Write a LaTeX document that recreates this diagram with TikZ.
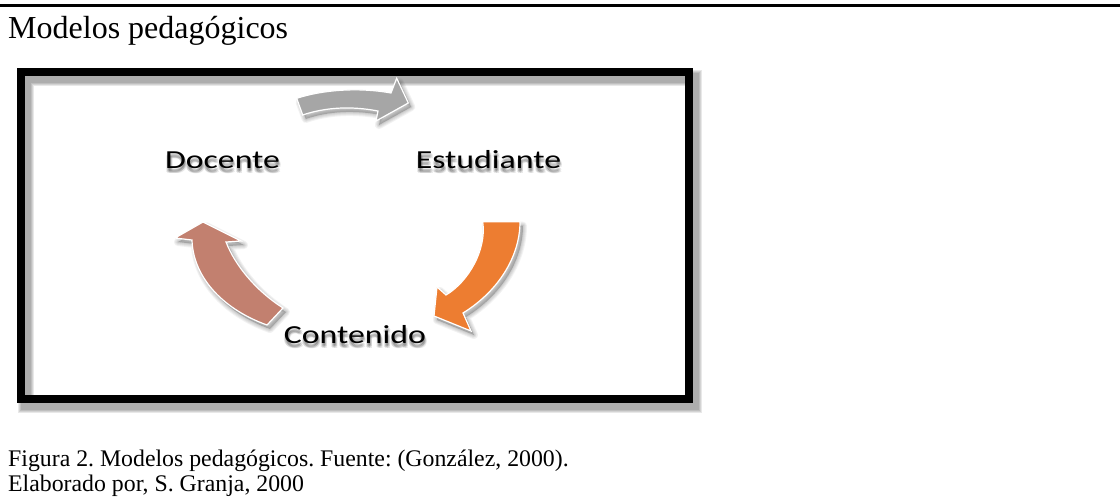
\documentclass[tikz,border=0pt]{standalone}
\usepackage{fontspec}
\setmainfont{Liberation Serif}
\newfontfamily\diagfont{Carlito}
\frenchspacing
\definecolor{arrgray}{HTML}{A6A6A6}
\definecolor{arrorange}{HTML}{ED7D31}
\definecolor{arrbrown}{HTML}{C2806F}
\def\pathGray{(296.7,98.3) .. controls (322,90) and (358,87) .. (391,93) -- (396.7,78.3) -- (408.3,103) -- (376,121) -- (378,111) .. controls (352,106) and (326,107) .. (302.7,115) -- cycle}
\def\pathOrange{(482.7,221.7) -- (520,221.7) .. controls (520,255) and (500,290) .. (463,313) -- (471,331) -- (434,316) -- (437,287) -- (446,295) .. controls (468,282) and (487,250) .. (482.7,221.7) -- cycle}
\def\pathBrown{(267,325) .. controls (220,308) and (193,275) .. (192,240) -- (175,238) -- (203,222) -- (241,241) -- (226,242) .. controls (235,265) and (255,290) .. (283,308) -- cycle}
\tikzset{
  diagtext/.style={anchor=base, inner sep=0, font=\diagfont\fontsize{26}{30}\selectfont, text=black},
  shadowtext/.style={diagtext, text=black, text opacity=0.09},
  captext/.style={anchor=base west, inner sep=0, font=\fontsize{23.8}{26}\selectfont},
  arrowshape/.style={draw=white, line width=1.2pt, line join=miter},
  shadowlayer/.style={fill=black, draw=black, fill opacity=0.05, draw opacity=0.05, line join=round}
}
\newcommand{\diagword}[3]{%
  \foreach \dx/\dy in {0/3,1/4,2/5,-1/4,1/2,2/3,0/5}{
    \node[shadowtext] at (#1+\dx,#2+\dy) {\scalebox{1.3}[1]{#3}};
  }
}
\begin{document}
\begin{tikzpicture}[x=1pt,y=-1pt]
\useasboundingbox (0,0) rectangle (1120,498);
\fill[white] (0,0) rectangle (1120,498);
% top rule
\coordinate (ruleL) at (0,5.5);
\coordinate (ruleR) at (1120,5.5);
\draw[line width=3pt] (ruleL) -- (ruleR);
% title
\node[anchor=base west, inner sep=0, font=\fontsize{32}{36}\selectfont] (title) at (8,38) {Modelos pedagógicos};
% frame shadow
\foreach \w in {16,14,12,10}{
  \draw[black, opacity=0.09, line width=\w pt, line join=miter] (26,77.5) rectangle (693.6,404.5);
}
% frame
\draw[line width=8.3pt, line join=miter] (21.2,72.2) rectangle (688.8,399.2);
% arrow shadows
\begin{scope}[shift={(3,4)}]
  \foreach \w in {8,6,4,2}{
    \filldraw[shadowlayer, line width=\w pt] \pathGray;
    \filldraw[shadowlayer, line width=\w pt] \pathOrange;
    \filldraw[shadowlayer, line width=\w pt] \pathBrown;
  }
\end{scope}
% arrows
\filldraw[arrowshape, fill=arrgray] \pathGray;
\filldraw[arrowshape, fill=arrorange] \pathOrange;
\filldraw[arrowshape, fill=arrbrown] \pathBrown;
% words with soft shadow
\diagword{222.5}{168}{Docente}
\diagword{488.5}{168}{Estudiante}
\diagword{355}{343}{Contenido}
\node[diagtext] (docente) at (222.5,168) {\scalebox{1.3}[1]{Docente}};
\node[diagtext] (estudiante) at (488.5,168) {\scalebox{1.3}[1]{Estudiante}};
\node[diagtext] (contenido) at (355,343) {\scalebox{1.3}[1]{Contenido}};
% caption
\node[captext] (cap1) at (8,466) {Figura 2. Modelos pedagógicos. Fuente: (González, 2000).};
\node[captext] (cap2) at (8,491) {Elaborado por, S. Granja, 2000};
\end{tikzpicture}
\end{document}
